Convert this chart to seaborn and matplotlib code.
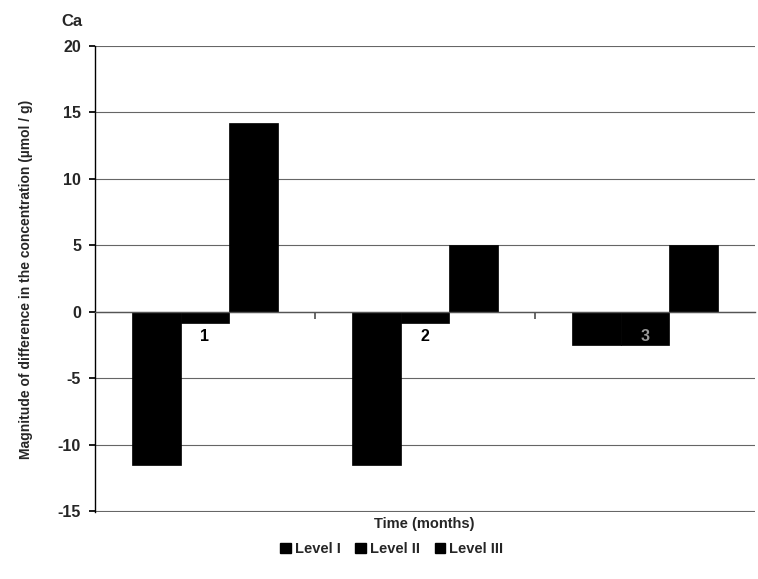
import matplotlib
matplotlib.use('Agg')
import matplotlib.pyplot as plt
import numpy as np
import pandas as pd
import seaborn as sns
from matplotlib.patches import Patch

months = ['1', '2', '3']
levels = ['Level I', 'Level II', 'Level III']
level_1 = [-11.5, -11.5, -2.5]
level_2 = [-0.8, -0.8, -2.5]
level_3 = [14.2, 5.0, 5.0]
y_ticks = [-15, -10, -5, 0, 5, 10, 15, 20]

df = pd.DataFrame({
    'month': months * 3,
    'level': [levels[0]] * 3 + [levels[1]] * 3 + [levels[2]] * 3,
    'value': level_1 + level_2 + level_3,
})

sns.set_theme(style='white')
plt.rcParams['font.family'] = ['Liberation Sans Narrow', 'Liberation Sans', 'DejaVu Sans']
plt.rcParams['font.weight'] = 'bold'

fig = plt.figure(figsize=(7.58, 5.79), dpi=100)
ax = fig.add_axes([0.1253, 0.1157, 0.8707, 0.8049])

sns.barplot(data=df, x='month', y='value', hue='level', palette=['black'] * 3,
            width=0.66, gap=0, saturation=1, legend=False, ax=ax, zorder=2)
for p in ax.patches:
    p.set_edgecolor('black')
    p.set_linewidth(0.5)

ax.set_ylim(-15.05, 20)
ax.set_xlim(-0.5, 2.5)
ax.set_yticks(y_ticks)
ax.set_yticklabels([str(t) for t in y_ticks], fontsize=11.5, fontweight='bold')
ax.yaxis.grid(True, color='#666666', linewidth=0.8)
ax.set_axisbelow(True)
ax.tick_params(axis='y', left=True, length=4, color='black', pad=6)

for s in ['top', 'right']:
    ax.spines[s].set_visible(False)
ax.spines['left'].set_color('black')
ax.spines['left'].set_linewidth(1)
ax.spines['bottom'].set_position(('data', 0))
ax.spines['bottom'].set_color('#555555')
ax.spines['bottom'].set_linewidth(1)

ax.set_xticks([0.5, 1.5])
ax.set_xticklabels([])
ax.tick_params(axis='x', bottom=True, length=5, direction='out', color='#555555')

for i, m in enumerate(months):
    ax.text(i, -1.3, m, ha='center', va='top', fontsize=11.5, fontweight='bold',
            color='black' if i < 2 else '#999999', zorder=5)

ax.set_xlabel('')
ax.set_ylabel('Magnitude of difference in the concentration (µmol / g)',
              fontsize=10, fontweight='bold', labelpad=18)
fig.text(0.5595, 0.095, 'Time (months)', ha='center', va='center',
         fontsize=10.5, fontweight='bold')
fig.text(0.095, 0.963, 'Ca', ha='center', va='center', fontsize=12, fontweight='bold')

handles = [Patch(facecolor='black', edgecolor='black') for _ in levels]
fig.legend(handles, levels, loc='center', bbox_to_anchor=(0.517, 0.052), ncol=3,
           frameon=False, handlelength=0.7, handleheight=0.7, handletextpad=0.3,
           columnspacing=1.0, prop={'size': 10.5, 'weight': 'bold'})

fig.savefig('out.png', dpi=100)
